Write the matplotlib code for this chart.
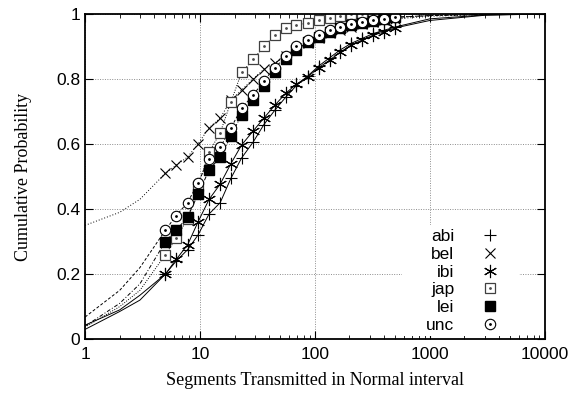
import numpy as np
import matplotlib
matplotlib.use("Agg")
import matplotlib.pyplot as plt
from matplotlib.legend_handler import HandlerTuple

# punkty pomiarowe (oś x logarytmiczna)
x = [5, 6.2, 7.8, 9.6, 12, 15, 18.6, 23, 29, 36, 45, 56, 69, 87, 108, 134,
     167, 208, 259, 323, 402, 500]

abi = [0.20, 0.24, 0.275, 0.32, 0.385, 0.42, 0.495, 0.557, 0.606, 0.66, 0.705,
       0.745, 0.78, 0.81, 0.84, 0.865, 0.89, 0.91, 0.925, 0.94, 0.95, 0.96]
bel = [0.51, 0.535, 0.56, 0.60, 0.65, 0.68, 0.735, 0.766, 0.80, 0.83, 0.85,
       0.87, 0.89, 0.91, 0.925, 0.94, 0.95, 0.96, 0.97, 0.975, 0.98, 0.985]
ibi = [0.20, 0.245, 0.29, 0.36, 0.43, 0.477, 0.54, 0.597, 0.64, 0.68, 0.72,
       0.757, 0.784, 0.807, 0.835, 0.858, 0.883, 0.905, 0.92, 0.935, 0.945, 0.957]
jap = [0.26, 0.31, 0.37, 0.47, 0.575, 0.635, 0.73, 0.82, 0.86, 0.90, 0.935,
       0.957, 0.966, 0.972, 0.98, 0.988, 0.995, 1.0, 1.0, 1.0, 1.0, 1.0]
lei = [0.30, 0.335, 0.375, 0.445, 0.52, 0.56, 0.625, 0.69, 0.735, 0.78, 0.82,
       0.86, 0.89, 0.915, 0.93, 0.945, 0.957, 0.965, 0.972, 0.978, 0.984, 0.99]
unc = [0.335, 0.38, 0.42, 0.48, 0.555, 0.59, 0.65, 0.71, 0.75, 0.795, 0.835,
       0.87, 0.90, 0.92, 0.935, 0.95, 0.96, 0.97, 0.975, 0.98, 0.985, 0.99]

# krzywe dopasowania: poczatek (x=1,2,3) i koniec (x=1000,3000,10000)
x_head = [1, 2, 3]
x_tail = [1000, 3000, 10000]
head = {"abi": [0.030, 0.085, 0.12], "bel": [0.35, 0.39, 0.43],
        "ibi": [0.043, 0.09, 0.135], "jap": [0.037, 0.10, 0.15],
        "lei": [0.040, 0.11, 0.17], "unc": [0.068, 0.15, 0.22]}
tail = {"abi": [0.985, 0.997, 1.0], "bel": [0.993, 0.998, 1.0],
        "ibi": [0.98, 0.996, 1.0], "jap": [1.0, 1.0, 1.0],
        "lei": [0.995, 0.999, 1.0], "unc": [0.995, 0.999, 1.0]}

nazwy = ["abi", "bel", "ibi", "jap", "lei", "unc"]
dane = {"abi": abi, "bel": bel, "ibi": ibi, "jap": jap, "lei": lei, "unc": unc}
style_linii = {"abi": "-", "bel": (0, (1, 2)), "ibi": "-", "jap": (0, (1, 1.5)),
               "lei": (0, (4, 2, 1, 2)), "unc": (0, (3, 2))}

plt.rcParams["font.family"] = ["Liberation Sans", "DejaVu Sans"]
fig = plt.figure(figsize=(5.71, 3.99), dpi=100)
ax = fig.add_axes([0.149, 0.150, 0.805, 0.815])

for n in nazwy:
    ax.plot(x_head + x + x_tail, head[n] + dane[n] + tail[n], color="black",
            lw=0.7, linestyle=style_linii[n], zorder=2)

ms = 7.5
uchwyty = []
h = ax.plot(x, abi, linestyle="none", marker="+", ms=9, mew=0.8, color="black", zorder=3)[0]
uchwyty.append(h)
h = ax.plot(x, bel, linestyle="none", marker="x", ms=7.5, mew=0.8, color="black", zorder=3)[0]
uchwyty.append(h)
h = ax.plot(x, ibi, linestyle="none", marker=(6, 2, 0), ms=9.5, mew=0.8, color="black", zorder=3)[0]
uchwyty.append(h)
h1 = ax.plot(x, jap, linestyle="none", marker="s", ms=ms, mew=0.9, mfc="white",
             mec="0.25", zorder=3)[0]
h2 = ax.plot(x, jap, linestyle="none", marker=".", ms=2, color="0.3", zorder=3)[0]
uchwyty.append((h1, h2))
h = ax.plot(x, lei, linestyle="none", marker="s", ms=ms, color="black", zorder=3)[0]
uchwyty.append(h)
h1 = ax.plot(x, unc, linestyle="none", marker="o", ms=7.5, mew=0.8, mfc="white",
             mec="black", zorder=3)[0]
h2 = ax.plot(x, unc, linestyle="none", marker=".", ms=2, color="black", zorder=3)[0]
uchwyty.append((h1, h2))

ax.set_xscale("log")
ax.set_xlim(1, 10000)
ax.set_ylim(0, 1)
ax.set_xticks([1, 10, 100, 1000, 10000])
ax.set_xticklabels(["1", "10", "100", "1000", "10000"])
ax.set_yticks([0, 0.2, 0.4, 0.6, 0.8, 1])
ax.set_yticklabels(["0", "0.2", "0.4", "0.6", "0.8", "1"])
ax.tick_params(which="both", direction="in", top=True, right=True, labelsize=12.5)
ax.tick_params(which="major", length=6, width=0.8)
ax.tick_params(which="minor", length=3, width=0.6)
ax.tick_params(axis="x", pad=6)
ax.grid(True, which="major", color="0.55", linestyle=(0, (1, 1.5)), lw=0.7)
for s in ax.spines.values():
    s.set_linewidth(1.3)
    s.set_zorder(6)

ax.set_xlabel("Segments Transmitted in Normal interval", family="Liberation Serif",
              fontsize=13, labelpad=7)
ax.set_ylabel("Cumulative Probability", family="Liberation Serif", fontsize=13,
              labelpad=17)

leg = ax.legend(uchwyty, nazwy, loc="lower right", bbox_to_anchor=(0.963, -0.018),
                markerfirst=False, frameon=True, framealpha=1, edgecolor="none",
                facecolor="white", fancybox=False, fontsize=12.5, handlelength=3,
                handletextpad=1.7, labelspacing=0.15, borderpad=0.2,
                handler_map={tuple: HandlerTuple(ndivide=1, pad=0)})
leg.set_zorder(5)
renderer = fig.canvas.get_renderer()
szer = max(t.get_window_extent(renderer).width for t in leg.get_texts())
for t in leg.get_texts():
    t.set_ha("right")
    t.set_position((szer * 72 / fig.dpi, 0))

fig.savefig("out.png", dpi=100)
